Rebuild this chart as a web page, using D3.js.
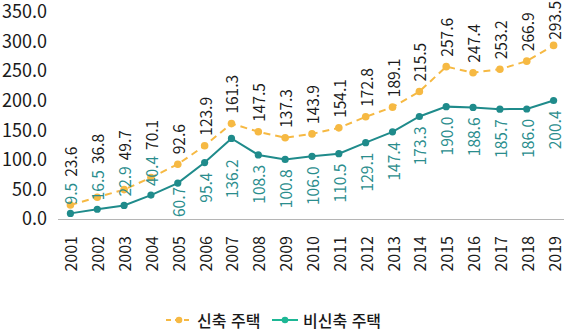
<!DOCTYPE html>
<html lang="ko">
<head>
<meta charset="utf-8">
<script src="https://cdn.jsdelivr.net/npm/d3@7"></script>
<style>
  html, body { margin: 0; padding: 0; background: #fff; }
  svg { display: block; font-family: "Noto Sans CJK KR", "Noto Sans", sans-serif; }
</style>
</head>
<body>
<svg id="chart" width="566" height="335"></svg>
<script>
// Housing price index, new vs. non-new housing, 2001–2019
const years = ["2001","2002","2003","2004","2005","2006","2007","2008","2009","2010",
               "2011","2012","2013","2014","2015","2016","2017","2018","2019"];
const newHousing = [23.6, 36.8, 49.7, 70.1, 92.6, 123.9, 161.3, 147.5, 137.3, 143.9,
                    154.1, 172.8, 189.1, 215.5, 257.6, 247.4, 253.2, 266.9, 293.5];
const otherHousing = [9.5, 16.5, 22.9, 40.4, 60.7, 95.4, 136.2, 108.3, 100.8, 106.0,
                      110.5, 129.1, 147.4, 173.3, 190.0, 188.6, 185.7, 186.0, 200.4];
const yTicks = [0, 50, 100, 150, 200, 250, 300, 350];
const seriesNames = ["신축 주택", "비신축 주택"];

const ORANGE = "#f6b943";
const TEAL = "#1f8b8b";
const TEAL_TEXT = "#2a8d8d";
const LEGEND_GREEN = "#1db795";
const INK = "#1a1a1a";

const svg = d3.select("#chart");
const axisY = 219;

const x = d3.scaleBand().domain(years).range([57, 567]);
const cx = d => x(d) + x.bandwidth() / 2;
const y = d3.scaleLinear().domain([0, 350]).range([axisY, 12]);

// y-axis tick labels (no axis line, no gridlines)
const yAxis = d3.axisLeft(y).tickValues(yTicks).tickSize(0).tickPadding(0)
  .tickFormat(d3.format(".1f"));
const gy = svg.append("g").attr("transform", "translate(47,0)").call(yAxis);
gy.select(".domain").remove();
gy.selectAll("text").attr("font-size", 18).attr("fill", INK)
  .attr("font-family", "'Noto Sans CJK KR', 'Noto Sans', sans-serif");

// baseline
svg.append("line").attr("x1", 58).attr("x2", 564)
  .attr("y1", axisY + 0.5).attr("y2", axisY + 0.5)
  .attr("stroke", "#b5b5b5").attr("stroke-width", 1);

// year labels, rotated
const xAxis = d3.axisBottom(x).tickSize(0).tickPadding(0);
const gx = svg.append("g").attr("transform", `translate(0,${axisY})`).call(xAxis);
gx.select(".domain").remove();
gx.selectAll("text")
  .attr("font-size", 16).attr("fill", INK)
  .attr("font-family", "'Noto Sans CJK KR', 'Noto Sans', sans-serif")
  .attr("text-anchor", "end")
  .attr("dy", null)
  .attr("dominant-baseline", "central")
  .attr("transform", "translate(0,17) rotate(-90)")
  .attr("y", 0).attr("x", 0);

// lines
const line = vals => d3.line().x((d, i) => cx(years[i])).y(d => y(d))(vals);

svg.append("path").attr("d", line(otherHousing))
  .attr("fill", "none").attr("stroke", TEAL).attr("stroke-width", 2);
svg.append("path").attr("d", line(newHousing))
  .attr("fill", "none").attr("stroke", ORANGE).attr("stroke-width", 2)
  .attr("stroke-dasharray", "7,5");

svg.append("g").selectAll("circle").data(otherHousing).join("circle")
  .attr("cx", (d, i) => cx(years[i])).attr("cy", d => y(d)).attr("r", 3.6)
  .attr("fill", TEAL);
svg.append("g").selectAll("circle").data(newHousing).join("circle")
  .attr("cx", (d, i) => cx(years[i])).attr("cy", d => y(d)).attr("r", 3.8)
  .attr("fill", ORANGE);

// value labels, rotated to read upward
const fmt = d3.format(".1f");
const labelLayer = svg.append("g");
function vlabel(xp, bottom, txt, color) {
  return labelLayer.append("text")
    .attr("transform", `translate(${xp},${bottom}) rotate(-90)`)
    .attr("dominant-baseline", "central")
    .attr("font-size", 15.5).attr("fill", color)
    .text(txt);
}
function measure(txt) {
  const t = vlabel(0, 0, txt, "none");
  const w = t.node().getComputedTextLength();
  t.remove();
  return w;
}
// extra downward push for a label that would crowd the line
const tealNudge = { "2007": 11 };

years.forEach((yr, i) => {
  const xp = cx(yr);
  const pt = y(otherHousing[i]);
  const po = y(newHousing[i]);
  const tTxt = fmt(otherHousing[i]);
  const oTxt = fmt(newHousing[i]);
  const tLen = measure(tTxt);
  const oLen = measure(oTxt);

  // teal label goes below its point; clamp above the baseline, flip above if cramped
  let top = pt + 10 + (tealNudge[yr] || 0);
  let bottom = top + tLen;
  let above = false;
  if (bottom > axisY - 2) {
    bottom = axisY - 2;
    top = bottom - tLen;
    if (top < pt + 2) {
      above = true;
      bottom = pt - 9;
      top = bottom - tLen;
    }
  }
  vlabel(xp, bottom, tTxt, TEAL_TEXT);

  // orange label sits above its point, kept inside the top edge
  let oBottom = po - 10;
  if (above) oBottom = Math.min(oBottom, top - 6);
  oBottom = Math.max(oBottom, oLen + 1);
  vlabel(xp, oBottom, oTxt, INK);
});

// legend
const lg = svg.append("g").attr("transform", "translate(0,320)");
const items = [
  { name: seriesNames[0], color: ORANGE, dash: "5,4", x0: 166 },
  { name: seriesNames[1], color: LEGEND_GREEN, dash: null, x0: 272 }
];
items.forEach(it => {
  const g = lg.append("g").attr("transform", `translate(${it.x0},0)`);
  g.append("line").attr("x1", 0).attr("x2", 26).attr("y1", 0).attr("y2", 0)
    .attr("stroke", it.color).attr("stroke-width", 2)
    .attr("stroke-dasharray", it.dash);
  g.append("circle").attr("cx", 13).attr("cy", 0).attr("r", 3.3).attr("fill", it.color);
  g.append("text").attr("x", 31).attr("y", 0).attr("dominant-baseline", "central")
    .attr("font-size", 16).attr("font-weight", 500).attr("fill", INK)
    .text(it.name);
});
</script>
</body>
</html>
